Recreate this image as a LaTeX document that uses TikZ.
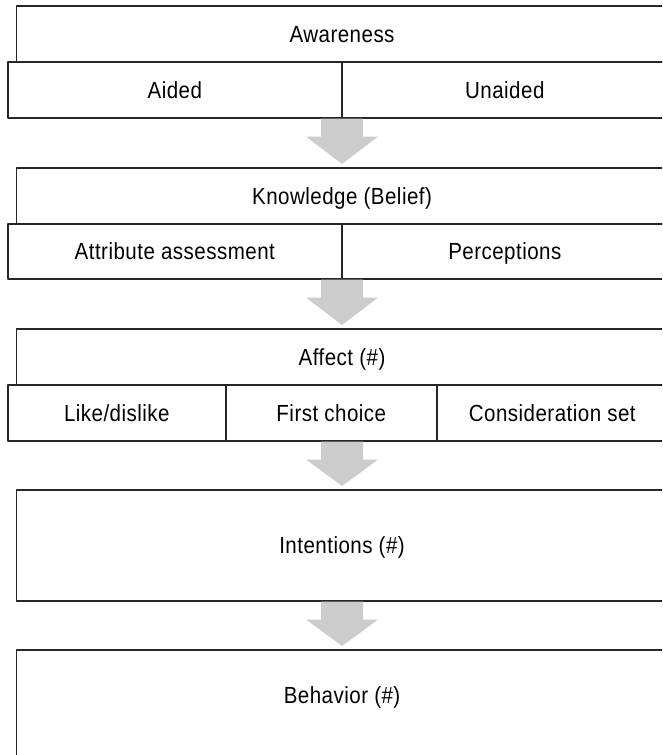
\documentclass[tikz,border=0pt]{standalone}
\usepackage{fontspec}
\setmainfont{Liberation Sans}[FakeStretch = 0.88, LetterSpace = 2]
\usetikzlibrary{calc}

\begin{document}
\begin{tikzpicture}[x = 0.75pt, y = -0.75pt, line cap = round, line join = round,
        box/.style = {draw = black!85, line width = 1.2pt, rectangle, inner sep = 0pt, anchor = north west,
            text height = 12.5pt, text depth = 0pt, font = \fontsize{17.5}{21}\selectfont},
        cell/.style 2 args = {box, minimum width = #1 * 0.75pt, minimum height = #2 * 0.75pt},
        flow/.style = {fill = black!20, draw = none}]
        %
        \def\MainLeft{15.5}
        \def\SubLeft{7}
        \def\MainWidth{651.5}
        %
        \useasboundingbox (0, 0) rectangle (662, 755);
        \clip (0, 0) rectangle (662, 755);

        % awareness
        \node [cell = {\MainWidth}{56}] (awareness) at (\MainLeft, 5) {Awareness};
        \node [cell = {334}{56}] (aided) at (\SubLeft, 61) {Aided};
        \node [cell = {326}{56}] (unaided) at (341, 61) {Unaided};

        % knowledge
        \node [cell = {\MainWidth}{56}] (knowledge) at (\MainLeft, 167) {Knowledge (Belief)};
        \node [cell = {334}{55}] (attribute) at (\SubLeft, 223) {Attribute assessment};
        \node [cell = {326}{55}] (perceptions) at (341, 223) {Perceptions};

        % affect
        \node [cell = {\MainWidth}{56}] (affect) at (\MainLeft, 328) {Affect (\#)};
        \node [cell = {218}{56}] (like) at (\SubLeft, 384) {Like/dislike};
        \node [cell = {211}{56}] (first) at (225, 384) {First choice};
        \node [cell = {231}{56}] (consideration) at (436, 384) {Consideration set};

        % intentions and behavior
        \node [cell = {\MainWidth}{111}] (intentions) at (\MainLeft, 489) {Intentions (\#)};
        \node [cell = {\MainWidth}{121}, text depth = 23pt] (behavior) at (\MainLeft, 649) {Behavior (\#)};

        % block arrows
        \foreach \top/\bottom/\next in {awareness/aided/knowledge, knowledge/attribute/affect, affect/like/intentions, intentions/intentions/behavior}
        {
            \fill [flow] ($(\top.south |- \bottom.south) + (-21, 0)$) -- ++(42, 0) -- ++(0, 18) -- ++(15, 0)
                -- ($(\next.north) + (0, -3)$) -- ($(\top.south |- \bottom.south) + (-36, 18)$) -- ++(15, 0) -- cycle;
        }
    \end{tikzpicture}
\end{document}
